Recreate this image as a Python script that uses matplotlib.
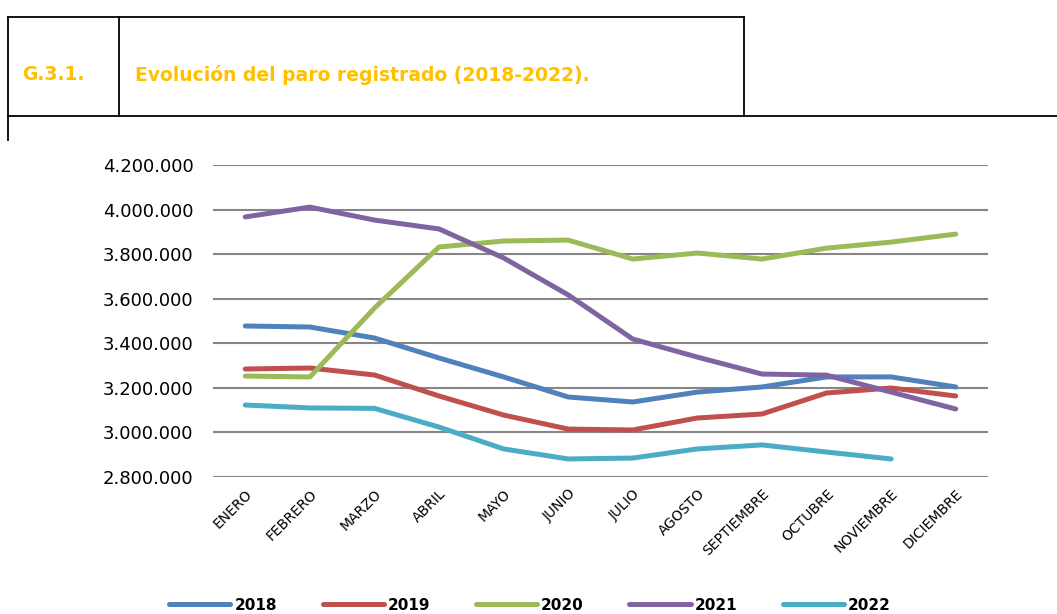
"""Evolución del paro registrado (2018-2022)."""

import matplotlib

matplotlib.use("Agg")
import matplotlib.pyplot as plt
from matplotlib.lines import Line2D
from matplotlib.ticker import FuncFormatter

MONTHS = ["ENERO", "FEBRERO", "MARZO", "ABRIL", "MAYO", "JUNIO", "JULIO",
          "AGOSTO", "SEPTIEMBRE", "OCTUBRE", "NOVIEMBRE", "DICIEMBRE"]

PARO_2018 = [3477600, 3473000, 3423700, 3334000, 3249000, 3159000,
             3136600, 3181000, 3204000, 3249000, 3249000, 3204000]
PARO_2019 = [3284600, 3289000, 3257700, 3163500, 3078000, 3015000,
             3011000, 3064800, 3082700, 3177000, 3199400, 3163500]
PARO_2020 = [3253000, 3249000, 3558000, 3832000, 3859000, 3863000,
             3778000, 3805000, 3778000, 3827000, 3854000, 3890000]
PARO_2021 = [3967000, 4011000, 3953000, 3913000, 3783000, 3617000,
             3419000, 3338000, 3262000, 3257000, 3181000, 3105000]
PARO_2022 = [3123000, 3110000, 3108000, 3024000, 2926000, 2881000,
             2885000, 2926000, 2944000, 2912000, 2881000]

SERIES = [
    ("2018", PARO_2018, "#4F81BD"),
    ("2019", PARO_2019, "#C0504D"),
    ("2020", PARO_2020, "#9BBB59"),
    ("2021", PARO_2021, "#8064A2"),
    ("2022", PARO_2022, "#4BACC6"),
]

Y_TICKS = [2800000, 3000000, 3200000, 3400000, 3600000, 3800000, 4000000, 4200000]

W, H = 1057, 614
TITLE_COLOR = "#FFC000"

fig = plt.figure(figsize=(W / 100, H / 100), dpi=100)


def fx(px):
    return px / W


def fy(py):
    return 1 - py / H


# header box
box_lines = [
    ((8, 744), (17, 17)),
    ((8, W), (116, 116)),
    ((8, 8), (17, 140)),
    ((119, 119), (17, 116)),
    ((744, 744), (17, 116)),
]
for xs, ys in box_lines:
    fig.add_artist(Line2D([fx(x) for x in xs], [fy(y) for y in ys],
                          color="black", linewidth=1.3))

fig.text(fx(22), fy(75), "G.3.1.", color=TITLE_COLOR, fontsize=13.5,
         fontweight="bold", va="center", ha="left")
fig.text(fx(135), fy(75), "Evolución del paro registrado (2018-2022).",
         color=TITLE_COLOR, fontsize=13.5, fontweight="bold", va="center", ha="left")

ax = fig.add_axes([fx(213), fy(477), fx(988) - fx(213), fy(165) - fy(477)])

for label, values, color in SERIES:
    ax.plot(range(len(values)), values, color=color, linewidth=3.6,
            solid_capstyle="round", solid_joinstyle="round", label=label)

ax.set_xlim(-0.5, len(MONTHS) - 0.5)
ax.set_ylim(Y_TICKS[0], Y_TICKS[-1])
ax.set_yticks(Y_TICKS)
ax.yaxis.set_major_formatter(FuncFormatter(lambda v, _: f"{int(v):,}".replace(",", ".")))
ax.set_xticks(range(len(MONTHS)))
ax.set_xticklabels(MONTHS, rotation=45, ha="right", rotation_mode="anchor",
                   fontsize=10)
ax.tick_params(axis="y", length=0, pad=14, labelsize=13)
ax.tick_params(axis="x", length=0, pad=7)

for spine in ax.spines.values():
    spine.set_visible(False)
ax.grid(axis="y", color="#868686", linewidth=1.5)
ax.set_axisbelow(True)

handles, labels = ax.get_legend_handles_labels()
fig.legend(handles, labels, loc="lower center", ncol=5, frameon=False,
           bbox_to_anchor=(fx(530), -0.02), handlelength=4.0,
           handletextpad=0.25, columnspacing=3.0,
           prop={"weight": "bold", "size": 11})

fig.savefig("out.png", dpi=100)
